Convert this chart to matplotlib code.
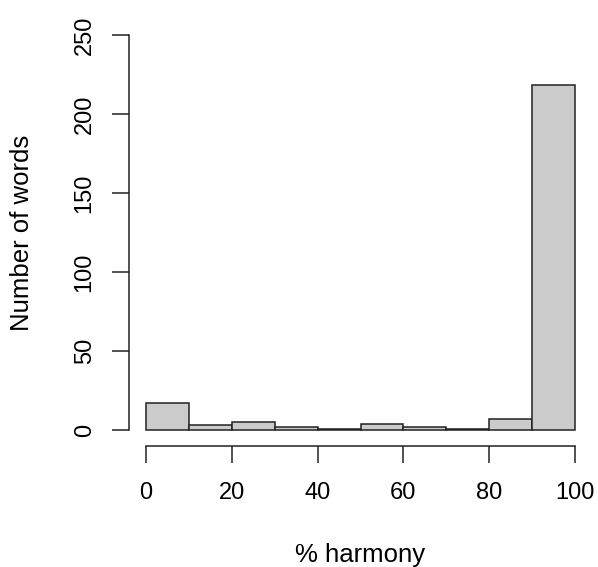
import numpy as np
import matplotlib.pyplot as plt

plt.rcParams['font.family'] = ['Liberation Sans', 'DejaVu Sans']

# histogram of % harmony, bins of 10
bin_edges = [0, 10, 20, 30, 40, 50, 60, 70, 80, 90, 100]
counts = [17, 3, 5, 2, 1, 4, 2, 1, 7, 218]
x_ticks = [0, 20, 40, 60, 80, 100]
y_ticks = [0, 50, 100, 150, 200, 250]

fig = plt.figure(figsize=(5.98, 5.67), dpi=100)
ax = fig.add_axes([129/598, 1 - 446/567, 463/598, 427/567])

ax.bar(bin_edges[:-1], counts, width=10, align='edge',
       color='#cbcbcb', edgecolor='#222222', linewidth=1.1)

ax.set_xlim(-4, 104)
ax.set_ylim(-10, 260)

for s in ['top', 'right']:
    ax.spines[s].set_visible(False)
ax.spines['left'].set_bounds(0, 250)
ax.spines['bottom'].set_bounds(0, 100)
for s in ['left', 'bottom']:
    ax.spines[s].set_linewidth(1.1)
    ax.spines[s].set_color('#222222')

ax.set_xticks(x_ticks)
ax.set_yticks(y_ticks)
ax.tick_params(axis='both', direction='out', length=12, width=1.1,
               color='#222222', labelsize=17)
ax.tick_params(axis='x', pad=14)
ax.tick_params(axis='y', labelrotation=90, pad=12)
for lbl in ax.get_yticklabels():
    lbl.set_va('center')

ax.set_xlabel('% harmony', fontsize=18.5)
ax.set_ylabel('Number of words', fontsize=18.5)
ax.xaxis.set_label_coords(0.5, (446 - 555) / 427)
ax.xaxis.label.set_va('center')
ax.yaxis.set_label_coords((22 - 129) / 463, 0.5)
ax.yaxis.label.set_va('center')
ax.yaxis.label.set_ha('center')

fig.savefig('out.png', dpi=100)
